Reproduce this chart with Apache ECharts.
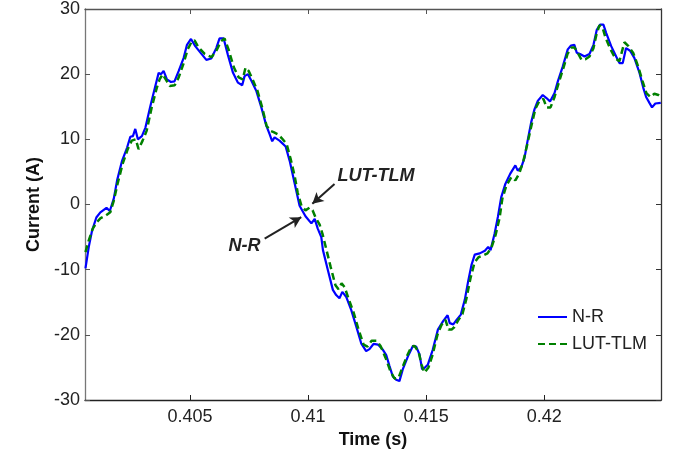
<!DOCTYPE html>
<html>
<head>
<meta charset="utf-8">
<script src="https://cdn.jsdelivr.net/npm/echarts@6/dist/echarts.min.js"></script>
<style>
html,body{margin:0;padding:0;background:#fff;}
#chart{width:684px;height:455px;}
</style>
</head>
<body>
<div id="chart"></div>
<script>
// N-R (blue solid): time (s) and current (A)
var nrTime = [0.40057,0.40071,0.40085,0.40103,0.40120,0.40146,0.40160,0.40177,0.40191,0.40212,0.40233,0.40247,0.40258,0.40268,0.40279,0.40296,0.40311,0.40332,0.40353,0.40367,0.40377,0.40388,0.40402,0.40419,0.40434,0.40452,0.40473,0.40487,0.40504,0.40522,0.40544,0.40569,0.40590,0.40611,0.40625,0.40642,0.40660,0.40682,0.40703,0.40721,0.40731,0.40745,0.40760,0.40781,0.40802,0.40823,0.40837,0.40848,0.40858,0.40879,0.40905,0.40922,0.40936,0.40950,0.40964,0.40989,0.41014,0.41028,0.41041,0.41056,0.41063,0.41084,0.41105,0.41119,0.41133,0.41145,0.41162,0.41183,0.41204,0.41225,0.41246,0.41260,0.41277,0.41296,0.41317,0.41331,0.41345,0.41359,0.41373,0.41387,0.41401,0.41423,0.41444,0.41458,0.41472,0.41483,0.41493,0.41507,0.41528,0.41550,0.41572,0.41591,0.41600,0.41615,0.41629,0.41647,0.41664,0.41678,0.41692,0.41706,0.41727,0.41749,0.41763,0.41773,0.41790,0.41804,0.41818,0.41836,0.41856,0.41878,0.41888,0.41903,0.41917,0.41930,0.41945,0.41959,0.41973,0.41994,0.42011,0.42025,0.42044,0.42058,0.42079,0.42100,0.42114,0.42128,0.42138,0.42152,0.42171,0.42192,0.42209,0.42223,0.42237,0.42251,0.42263,0.42284,0.42305,0.42319,0.42333,0.42347,0.42364,0.42382,0.42404,0.42420,0.42432,0.42446,0.42457,0.42471,0.42494];
var nrCurrent = [-9.8,-6.5,-4.0,-2.0,-1.2,-0.5,-1.0,0.9,3.7,6.7,8.7,10.4,10.5,11.6,10.0,10.5,11.8,15.1,18.2,20.2,20.0,20.5,19.2,18.8,18.9,20.5,22.5,24.5,25.4,24.3,23.3,22.2,22.4,24.0,25.5,25.5,23.0,20.2,18.7,18.3,19.7,20.0,19.0,17.4,14.9,12.1,10.8,9.7,10.3,9.8,8.9,6.7,4.4,2.1,-0.2,-1.8,-2.9,-2.2,-3.7,-5.0,-7.0,-10.1,-13.1,-13.9,-14.4,-13.4,-14.2,-16.2,-18.7,-21.3,-22.5,-22.2,-21.4,-21.5,-22.3,-23.1,-24.8,-26.4,-26.9,-27.1,-25.3,-23.3,-21.7,-21.8,-23.0,-25.3,-25.1,-24.6,-22.3,-19.2,-17.9,-17.0,-18.2,-18.4,-17.7,-16.9,-14.6,-11.8,-9.3,-7.7,-7.5,-7.1,-6.5,-7.0,-4.5,-1.9,1.1,3.2,4.7,6.0,5.2,5.7,7.2,9.8,12.6,14.6,15.9,16.8,16.3,15.8,17.1,18.9,21.2,23.8,24.4,24.5,23.3,23.1,22.7,23.1,24.5,26.8,27.6,27.6,26.3,24.3,22.7,21.7,21.7,24.0,23.6,22.5,20.2,17.9,16.5,15.6,14.9,15.5,15.6];

// LUT-TLM (green dashed): time (s) and current (A)
var lutTime = [0.40057,0.40071,0.40088,0.40105,0.40121,0.40143,0.40162,0.40177,0.40193,0.40215,0.40236,0.40253,0.40270,0.40282,0.40299,0.40316,0.40337,0.40359,0.40371,0.40384,0.40397,0.40414,0.40435,0.40452,0.40473,0.40490,0.40507,0.40519,0.40536,0.40562,0.40591,0.40613,0.40630,0.40646,0.40663,0.40685,0.40706,0.40723,0.40735,0.40748,0.40765,0.40786,0.40807,0.40824,0.40841,0.40854,0.40871,0.40888,0.40909,0.40926,0.40943,0.40956,0.40972,0.40989,0.41006,0.41019,0.41032,0.41049,0.41061,0.41074,0.41095,0.41116,0.41129,0.41142,0.41155,0.41171,0.41193,0.41214,0.41235,0.41252,0.41269,0.41290,0.41307,0.41328,0.41349,0.41366,0.41383,0.41400,0.41421,0.41438,0.41451,0.41468,0.41481,0.41493,0.41510,0.41527,0.41548,0.41565,0.41582,0.41595,0.41608,0.41620,0.41637,0.41654,0.41671,0.41688,0.41705,0.41722,0.41743,0.41760,0.41777,0.41794,0.41811,0.41823,0.41840,0.41861,0.41878,0.41895,0.41912,0.41929,0.41946,0.41963,0.41980,0.41997,0.42010,0.42027,0.42044,0.42061,0.42082,0.42099,0.42116,0.42128,0.42141,0.42158,0.42175,0.42192,0.42209,0.42221,0.42234,0.42247,0.42260,0.42281,0.42302,0.42319,0.42340,0.42357,0.42378,0.42399,0.42416,0.42433,0.42450,0.42467,0.42484,0.42495];
var lutCurrent = [-7.3,-5.5,-3.7,-2.7,-2.1,-1.7,-1.2,0.6,3.2,6.3,8.5,9.8,10.0,8.5,9.8,11.3,14.8,17.9,19.2,20.0,19.2,18.2,18.3,19.5,21.7,23.8,25.0,25.2,24.1,23.1,22.6,23.7,25.0,25.5,23.8,21.1,19.5,19.2,21.0,20.5,19.2,17.4,14.7,12.1,11.3,11.1,10.8,10.2,9.3,7.0,4.4,1.8,-0.2,-0.9,-0.5,-0.9,-2.0,-3.1,-4.5,-6.4,-9.5,-12.4,-13.0,-12.1,-12.7,-14.4,-16.6,-19.2,-21.5,-21.8,-20.9,-20.9,-21.7,-23.5,-25.6,-26.7,-26.6,-25.0,-23.1,-21.8,-21.7,-22.6,-24.6,-25.8,-25.0,-23.1,-20.0,-18.5,-17.7,-19.2,-19.2,-18.8,-17.7,-16.8,-14.4,-11.3,-8.9,-8.1,-7.8,-7.5,-6.6,-4.7,-2.1,0.9,2.9,4.2,3.7,4.8,6.7,9.3,12.1,14.7,15.9,16.2,14.9,14.9,16.5,18.6,21.0,23.1,24.1,24.1,23.4,22.2,22.3,22.7,24.0,26.0,27.5,27.2,25.6,23.8,22.4,22.0,24.9,24.3,23.2,21.1,19.0,17.1,16.5,17.0,16.8,16.5];

var xTicks = [0.405, 0.41, 0.415, 0.42];
var seriesNames = ['N-R', 'LUT-TLM'];

function pairs(t, v) { return t.map(function (x, i) { return [x, v[i]]; }); }

var chart = echarts.init(document.getElementById('chart'), null, {renderer: 'canvas'});
var FONT = 'Liberation Sans, Arial, sans-serif';
var xMin = 0.40055, xMax = 0.42495;

var option = {
  animation: false,
  backgroundColor: '#ffffff',
  grid: {left: 85, right: 23, top: 8, bottom: 55, containLabel: false},
  legend: {
    orient: 'vertical', left: 532, top: 303,
    itemWidth: 29, itemHeight: 18, itemGap: 9,
    itemStyle: {opacity: 0},
    textStyle: {fontFamily: FONT, fontSize: 18, color: '#222'},
    data: seriesNames
  },
  xAxis: [{
    type: 'value', min: xMin, max: xMax, position: 'bottom',
    name: 'Time (s)', nameLocation: 'middle', nameGap: 24,
    nameTextStyle: {fontFamily: FONT, fontSize: 18, fontWeight: 'bold', color: '#111'},
    axisLine: {onZero: false, lineStyle: {color: '#222', width: 1.3}},
    axisTick: {inside: true, length: 5, customValues: xTicks, lineStyle: {color: '#222'}},
    axisLabel: {customValues: xTicks, margin: 8, fontFamily: FONT, fontSize: 18, color: '#222',
      formatter: function (v) { return String(parseFloat(v.toFixed(3))); }},
    splitLine: {show: false}
  }, {
    type: 'value', min: xMin, max: xMax, position: 'top',
    axisLine: {onZero: false, lineStyle: {color: '#555', width: 1.3}},
    axisTick: {inside: true, length: 5, customValues: xTicks, lineStyle: {color: '#555'}},
    axisLabel: {show: false},
    splitLine: {show: false}
  }],
  yAxis: [{
    type: 'value', min: -30, max: 30, interval: 10, position: 'left',
    name: 'Current (A)', nameLocation: 'middle', nameGap: 34,
    nameTextStyle: {fontFamily: FONT, fontSize: 18, fontWeight: 'bold', color: '#111'},
    axisLine: {onZero: false, lineStyle: {color: '#777', width: 1.3}},
    axisTick: {inside: true, length: 5, lineStyle: {color: '#555'}},
    axisLabel: {margin: 5, fontFamily: FONT, fontSize: 18, color: '#222'},
    splitLine: {show: false}
  }, {
    type: 'value', min: -30, max: 30, interval: 10, position: 'right',
    axisLine: {onZero: false, lineStyle: {color: '#333', width: 1.3}},
    axisTick: {inside: true, length: 5, lineStyle: {color: '#333'}},
    axisLabel: {show: false},
    splitLine: {show: false}
  }],
  series: [{
    name: seriesNames[0], type: 'line', xAxisIndex: 0, yAxisIndex: 0,
    data: pairs(nrTime, nrCurrent),
    symbol: 'none', lineStyle: {color: '#0000ff', width: 2.2},
    itemStyle: {color: '#0000ff'}, z: 3,
    markLine: {
      silent: true, symbol: ['none', 'arrow'], symbolSize: [9, 11],
      label: {show: false},
      lineStyle: {color: '#222', width: 2, type: 'solid'},
      data: [
        [{coord: [0.41112, 3.16]}, {coord: [0.41018, 0.11]}],
        [{coord: [0.40816, -5.24]}, {coord: [0.40971, -1.94]}]
      ]
    }
  }, {
    name: seriesNames[1], type: 'line', xAxisIndex: 0, yAxisIndex: 0,
    data: pairs(lutTime, lutCurrent),
    symbol: 'none', lineStyle: {color: '#008000', width: 2.5, type: [7, 4]},
    itemStyle: {color: '#008000'}, z: 4
  }]
};
chart.setOption(option);

// annotation labels placed at data coordinates
var lutPos = chart.convertToPixel({xAxisIndex: 0, yAxisIndex: 0}, [0.41125, 4.4]);
var nrPos = chart.convertToPixel({xAxisIndex: 0, yAxisIndex: 0}, [0.40663, -6.35]);
chart.setOption({
  graphic: [
    {type: 'text', x: lutPos[0], y: lutPos[1], style: {text: 'LUT-TLM', font: 'italic bold 18px ' + FONT, fill: '#222', textAlign: 'left', textVerticalAlign: 'middle'}},
    {type: 'text', x: nrPos[0], y: nrPos[1], style: {text: 'N-R', font: 'italic bold 18px ' + FONT, fill: '#222', textAlign: 'left', textVerticalAlign: 'middle'}}
  ]
});
</script>
</body>
</html>
